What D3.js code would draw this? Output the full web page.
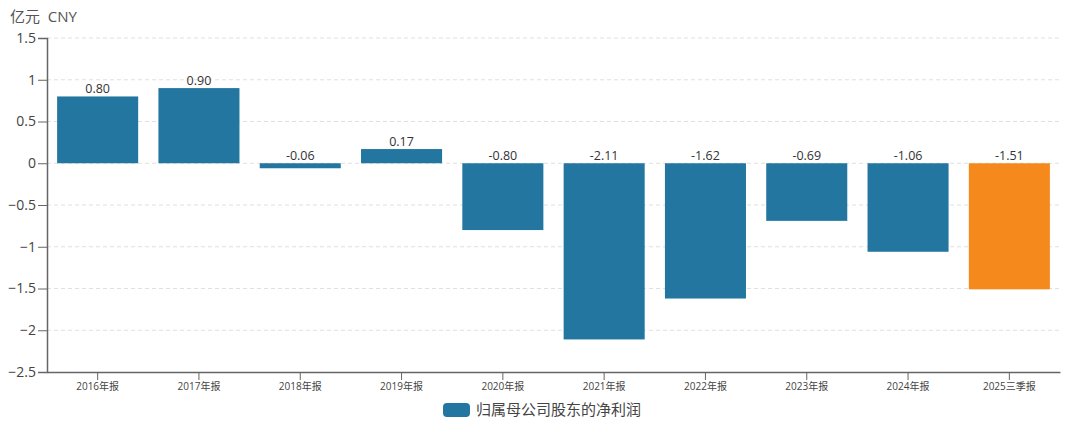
<!DOCTYPE html>
<html><head><meta charset="utf-8">
<script src="https://cdn.jsdelivr.net/npm/d3@7"></script>
<style>body{margin:0;background:#fff}svg{display:block}text{font-family:"Open Sans","Noto Sans CJK SC",sans-serif}</style>
</head><body><svg id="c" width="1080" height="421"></svg>
<script>
const categories = ["2016年报","2017年报","2018年报","2019年报","2020年报","2021年报","2022年报","2023年报","2024年报","2025三季报"];
const values = [0.80,0.90,-0.06,0.17,-0.80,-2.11,-1.62,-0.69,-1.06,-1.51];
const yTicks = [1.5,1,0.5,0,-0.5,-1,-1.5,-2,-2.5];
const seriesName = "归属母公司股东的净利润";
const unitLabel = "亿元  CNY";

const svg = d3.select("#c");
const m = {l:47, r:1060, t:38, b:372};
const x = d3.scaleBand().domain(categories).range([m.l, m.r]).paddingInner(0.2).paddingOuter(0.1);
const y = d3.scaleLinear().domain([-2.5,1.5]).range([m.b, m.t]);

// grid
svg.append("g").selectAll("line").data(yTicks.filter(d=>d!==-2.5)).join("line")
  .attr("x1", m.l).attr("x2", m.r).attr("y1", d=>y(d)).attr("y2", d=>y(d))
  .attr("stroke", "#e0e0e0").attr("stroke-dasharray", "4,3");

// bars
svg.append("g").selectAll("rect").data(values).join("rect")
  .attr("x", (d,i)=>x(categories[i]))
  .attr("width", x.bandwidth())
  .attr("y", d=>y(Math.max(0,d)))
  .attr("height", d=>Math.abs(y(d)-y(0)))
  .attr("fill", (d,i)=> i===categories.length-1 ? "#f5891b" : "#22769f");

// value labels
svg.append("g").selectAll("text").data(values).join("text")
  .attr("x", (d,i)=>x(categories[i]) + x.bandwidth()/2)
  .attr("y", d=> d>=0 ? y(d)-3 : y(0)-3)
  .attr("text-anchor","middle").attr("font-size",12.5).attr("fill","#333")
  .text(d=>d.toFixed(2));

// y axis
const ya = svg.append("g").attr("transform",`translate(${m.l},0)`)
  .call(d3.axisLeft(y).tickValues(yTicks).tickSize(9).tickPadding(2).tickFormat(d3.format("")));
ya.select(".domain").attr("stroke","#666").attr("stroke-width",1.5);
ya.selectAll(".tick line").attr("stroke","#666");
ya.selectAll(".tick text").attr("font-size",14).attr("fill","#444").attr("font-family","'Open Sans',sans-serif");

// x axis
const xa = svg.append("g").attr("transform",`translate(0,${m.b})`)
  .call(d3.axisBottom(x).tickSize(8).tickPadding(3).tickSizeOuter(0));
xa.select(".domain").attr("stroke","#666").attr("stroke-width",1.5);
xa.selectAll(".tick line").attr("stroke","#666");
xa.selectAll(".tick text").attr("font-size",10).attr("fill","#444").attr("font-family","'Open Sans','Noto Sans CJK SC',sans-serif");

// unit
svg.append("text").attr("x",10).attr("y",22).attr("font-size",15).attr("fill","#555")
  .style("white-space","pre").text(unitLabel);

// legend
const lg = svg.append("g");
lg.append("rect").attr("x",443).attr("y",403).attr("width",27).attr("height",14).attr("rx",4).attr("fill","#22769f");
lg.append("text").attr("x",476).attr("y",415).attr("font-size",15).attr("fill","#444").text(seriesName);
</script></body></html>
